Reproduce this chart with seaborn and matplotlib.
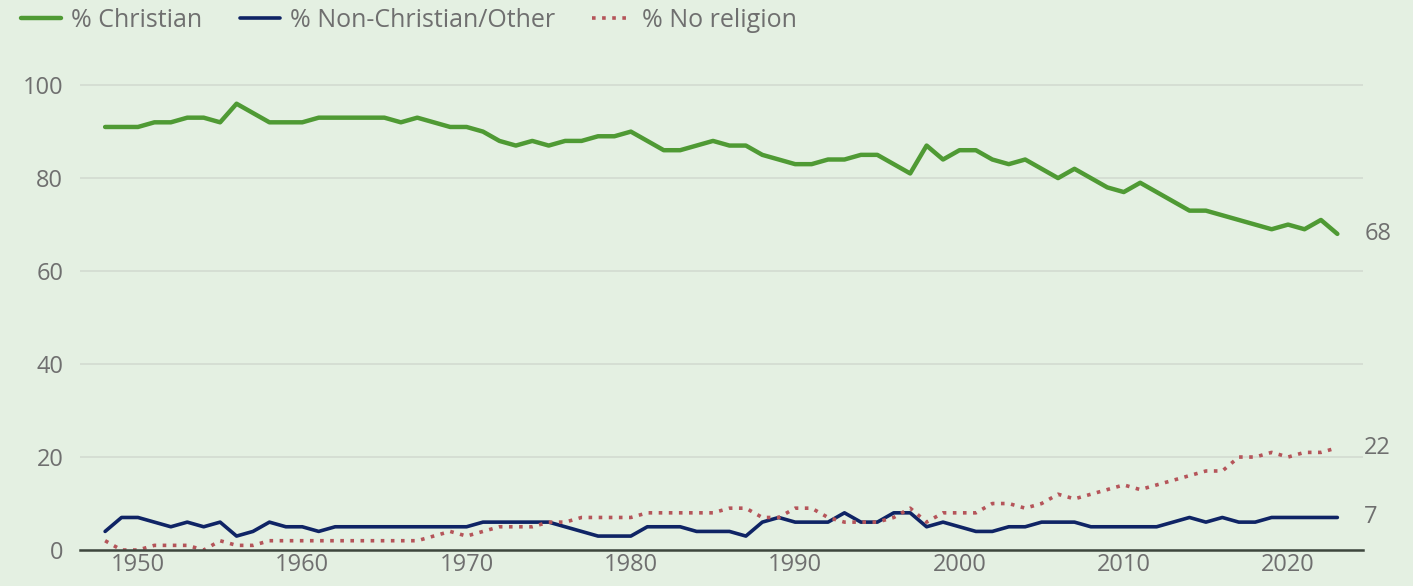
import matplotlib.pyplot as plt
import pandas as pd
import seaborn as sns

# Survey years, one reading per year
years = list(range(1948, 2024))

christian = [91, 91, 91, 92, 92, 93, 93, 92, 96, 94,
             92, 92, 92, 93, 93, 93, 93, 93, 92, 93,
             92, 91, 91, 90, 88, 87, 88, 87, 88, 88,
             89, 89, 90, 88, 86, 86, 87, 88, 87, 87,
             85, 84, 83, 83, 84, 84, 85, 85, 83, 81,
             87, 84, 86, 86, 84, 83, 84, 82, 80, 82,
             80, 78, 77, 79, 77, 75, 73, 73, 72, 71,
             70, 69, 70, 69, 71, 68]

non_christian = [4, 7, 7, 6, 5, 6, 5, 6, 3, 4,
                 6, 5, 5, 4, 5, 5, 5, 5, 5, 5,
                 5, 5, 5, 6, 6, 6, 6, 6, 5, 4,
                 3, 3, 3, 5, 5, 5, 4, 4, 4, 3,
                 6, 7, 6, 6, 6, 8, 6, 6, 8, 8,
                 5, 6, 5, 4, 4, 5, 5, 6, 6, 6,
                 5, 5, 5, 5, 5, 6, 7, 6, 7, 6,
                 6, 7, 7, 7, 7, 7]

no_religion = [2, 0, 0, 1, 1, 1, 0, 2, 1, 1,
               2, 2, 2, 2, 2, 2, 2, 2, 2, 2,
               3, 4, 3, 4, 5, 5, 5, 6, 6, 7,
               7, 7, 7, 8, 8, 8, 8, 8, 9, 9,
               7, 7, 9, 9, 7, 6, 6, 6, 7, 9,
               6, 8, 8, 8, 10, 10, 9, 10, 12, 11,
               12, 13, 14, 13, 14, 15, 16, 17, 17, 20,
               20, 21, 20, 21, 21, 22]

series_names = ["% Christian", "% Non-Christian/Other", "% No religion"]
end_labels = ["68", "7", "22"]

df = pd.DataFrame({"year": years,
                   series_names[0]: christian,
                   series_names[1]: non_christian,
                   series_names[2]: no_religion})

bg = "#e4f0e2"
green = "#4f9a34"
navy = "#0f2465"
red = "#b5555a"
text_grey = "#6f6f6f"

sns.set_theme(style="white")
plt.rcParams["font.family"] = ["Open Sans", "DejaVu Sans"]

fig = plt.figure(figsize=(14.13, 5.86), dpi=100, facecolor=bg)
ax = fig.add_axes([0.0566, 0.0614, 0.908, 0.833])
ax.set_facecolor(bg)

sns.lineplot(data=df, x="year", y=series_names[0], ax=ax, color=green,
             linewidth=3.2, label=series_names[0], legend=False)
sns.lineplot(data=df, x="year", y=series_names[1], ax=ax, color=navy,
             linewidth=2.6, label=series_names[1], legend=False)
sns.lineplot(data=df, x="year", y=series_names[2], ax=ax, color=red,
             linewidth=2.6, linestyle=(0, (1, 1.8)), label=series_names[2],
             legend=False)

ax.set_xlim(1946.47, 2024.56)
ax.set_ylim(0, 105)
ax.set_yticks([0, 20, 40, 60, 80, 100])
ax.set_xticks(range(1950, 2030, 10))
ax.yaxis.grid(True, color="#d2dbd0", linewidth=1.2)
ax.set_axisbelow(True)
for side in ["top", "right", "left"]:
    ax.spines[side].set_visible(False)
ax.spines["bottom"].set_color("#3e473e")
ax.spines["bottom"].set_linewidth(1.8)
ax.tick_params(axis="both", length=0, labelsize=17, colors=text_grey, pad=12)
ax.tick_params(axis="x", pad=2)
ax.set_xlabel("")
ax.set_ylabel("")

# end-of-line value labels
last_vals = [christian[-1], non_christian[-1], no_religion[-1]]
for val, lab in zip(last_vals, end_labels):
    ax.annotate(lab, xy=(1, val), xycoords=("axes fraction", "data"),
                xytext=(1, 0), textcoords="offset points",
                fontsize=17, color=text_grey, va="center", ha="left",
                annotation_clip=False)

handles, labels = ax.get_legend_handles_labels()
fig.legend(handles, labels, loc="upper left", bbox_to_anchor=(-0.001, 1.025),
           ncol=3, frameon=False, fontsize=18, handlelength=1.6,
           handletextpad=0.4, columnspacing=1.5, labelcolor=text_grey)

fig.savefig("out.png", dpi=100, facecolor=bg)
